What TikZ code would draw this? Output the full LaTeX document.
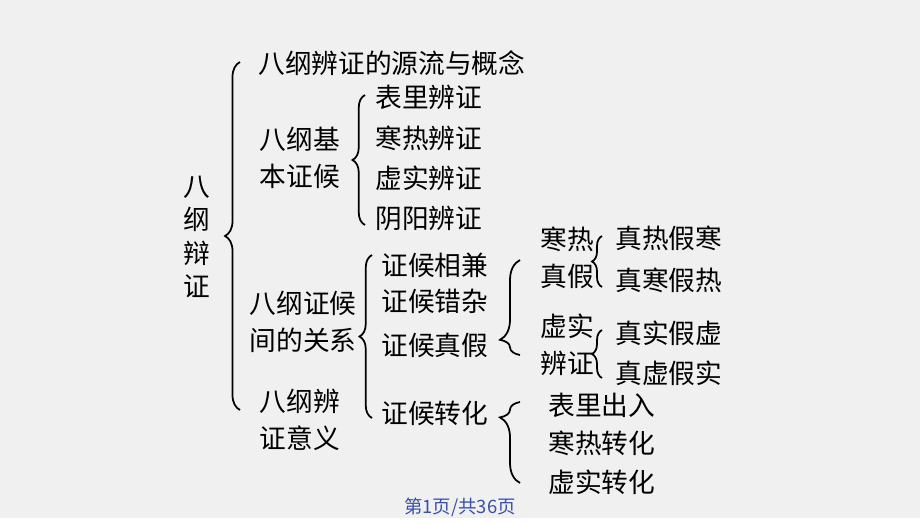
\documentclass[tikz,border=0pt]{standalone}
\usepackage{fontspec}
\setmainfont{Noto Sans CJK SC}
\usetikzlibrary{decorations.pathreplacing}
\definecolor{pagegray}{HTML}{F0F0F0}
\definecolor{footblue}{HTML}{3A4FA8}

\begin{document}
\begin{tikzpicture}[x=0.02cm,y=-0.02cm]
  \tikzset{item/.style={anchor=west,inner sep=0pt,font=\fontsize{15.2}{21}\selectfont},
           group/.style={align=center,inner sep=0pt,font=\fontsize{15.2}{21}\selectfont},
           curly/.style={decorate,line width=1pt,decoration={brace,amplitude=#1}}}
  \fill[pagegray] (0,0) rectangle (920,518);

  \node[group,font=\fontsize{15.2}{19}\selectfont] (root) at (197,237) {八\\纲\\辩\\证};
  \node[item] (origin) at (258,63) {八纲辨证的源流与概念};
  \node[group] (basic) at (300,158) {八纲基\\本证候};
  \node[group] (relation) at (303,322) {八纲证候\\间的关系};
  \node[group] (meaning) at (300,420) {八纲辨\\证意义};

  \node[item] (b_1) at (375,97) {表里辨证};
  \node[item] (b_2) at (375,138) {寒热辨证};
  \node[item] (b_3) at (375,178) {虚实辨证};
  \node[item] (b_4) at (375,218) {阴阳辨证};

  \node[item] (r_1) at (381,265) {证候相兼};
  \node[item] (r_2) at (381,301) {证候错杂};
  \node[item] (r_3) at (381,345) {证候真假};
  \node[item] (r_4) at (381,413) {证候转化};

  \node[group] (cold) at (567,258) {寒热\\真假};
  \node[group] (excess) at (567,345) {虚实\\辨证};
  \node[item] (c_1) at (615,238) {真热假寒};
  \node[item] (c_2) at (615,280) {真寒假热};
  \node[item] (e_1) at (615,333) {真实假虚};
  \node[item] (e_2) at (615,373) {真虚假实};

  \node[item] (t_1) at (548,405) {表里出入};
  \node[item] (t_2) at (548,443) {寒热转化};
  \node[item] (t_3) at (548,482) {虚实转化};

  \draw[curly=0.3cm] (240,410) -- (240,62);
  \draw[curly=0.25cm] (365,225) -- (365,95);
  \draw[curly=0.25cm] (372,418) -- (372,255);
  \draw[curly=0.4cm,decoration={aspect=0.16}] (520,355) -- (520,260);
  \draw[curly=0.4cm,decoration={aspect=0.81}] (520,483) -- (520,402);
  \draw[curly=0.2cm] (602,287) -- (602,236);
  \draw[curly=0.2cm] (602,378) -- (602,330);

  \node[font=\fontsize{10.5}{12}\selectfont,text=footblue] (footer) at (460,507) {第1页/共36页};
\end{tikzpicture}
\end{document}
